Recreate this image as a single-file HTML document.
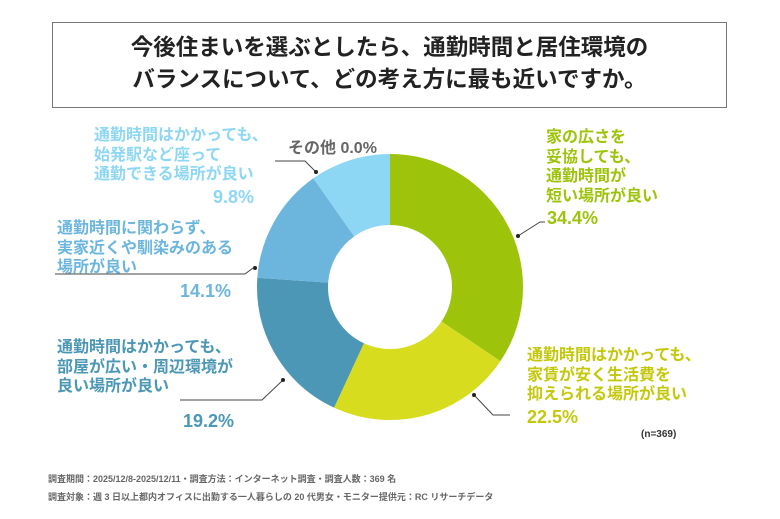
<!DOCTYPE html>
<html><head><meta charset="utf-8"><style>
body{margin:0;background:#fff;width:780px;height:519px;overflow:hidden;position:relative;font-family:"Liberation Sans","Noto Sans CJK JP",sans-serif;font-weight:bold}
.t{position:absolute;white-space:nowrap}
</style></head><body>
<div style="position:absolute;left:52px;top:22px;width:675px;height:86px;border:1px solid #777;box-sizing:border-box"></div>
<div class="t" style="left:52px;width:675px;top:32px;text-align:center;font-size:22.5px;line-height:32px;color:#222">今後住まいを選ぶとしたら、通勤時間と居住環境の<br>バランスについて、どの考え方に最も近いですか。</div>
<svg width="780" height="519" style="position:absolute;left:0;top:0">
<g transform="rotate(-90 390 287)" fill="none" stroke-width="71">
<circle cx="390" cy="287" r="97.5" stroke="#9dc30a" stroke-dasharray="210.7 612.6" stroke-dashoffset="0"/>
<circle cx="390" cy="287" r="97.5" stroke="#d7dc1e" stroke-dasharray="137.8 612.6" stroke-dashoffset="-210.7"/>
<circle cx="390" cy="287" r="97.5" stroke="#4b97b5" stroke-dasharray="117.6 612.6" stroke-dashoffset="-348.5"/>
<circle cx="390" cy="287" r="97.5" stroke="#6cb6de" stroke-dasharray="86.4 612.6" stroke-dashoffset="-466.1"/>
<circle cx="390" cy="287" r="97.5" stroke="#8ed7f4" stroke-dasharray="60 612.6" stroke-dashoffset="-552.5"/>
</g>
<g stroke="#444" fill="none" stroke-width="1">
<polyline points="518,236 540,222 545,222"/>
<polyline points="474,395 493,415 510,415"/>
<polyline points="283,380 262,400 180,400"/>
<polyline points="253,268 245,274 55,274"/>
<polyline points="316,172 305,161 275,161"/>
</g>
<g fill="#222"><circle cx="518" cy="236" r="2"/><circle cx="474" cy="395" r="2"/><circle cx="283" cy="380" r="2"/><circle cx="255" cy="268" r="2"/><circle cx="316" cy="172" r="2"/></g>
</svg>
<div class="t" style="left:546px;top:128px;font-size:16px;line-height:19.5px;color:#9dc30a">家の広さを<br>妥協しても、<br>通勤時間が<br>短い場所が良い</div>
<div class="t" style="left:547px;top:208px;font-size:18px;color:#9dc30a">34.4%</div>
<div class="t" style="left:527px;top:346px;font-size:16px;line-height:19.5px;color:#c4c80c">通勤時間はかかっても、<br>家賃が安く生活費を<br>抑えられる場所が良い</div>
<div class="t" style="left:527px;top:407px;font-size:18px;color:#c4c80c">22.5%</div>
<div class="t" style="left:641px;top:429px;font-size:10px;color:#333">(n=369)</div>
<div class="t" style="left:57px;top:338px;font-size:16px;line-height:19.5px;color:#4b97b5">通勤時間はかかっても、<br>部屋が広い・周辺環境が<br>良い場所が良い</div>
<div class="t" style="left:183px;top:411px;font-size:18px;color:#4b97b5">19.2%</div>
<div class="t" style="left:57px;top:219px;font-size:16px;line-height:19.5px;color:#6cb6de">通勤時間に関わらず、<br>実家近くや馴染みのある<br>場所が良い</div>
<div class="t" style="left:180px;top:281px;font-size:18px;color:#6cb6de">14.1%</div>
<div class="t" style="left:94px;top:126px;font-size:16px;line-height:19.5px;color:#8ed7f4">通勤時間はかかっても、<br>始発駅など座って<br>通勤できる場所が良い</div>
<div class="t" style="left:213px;top:187px;font-size:18px;color:#8ed7f4">9.8%</div>
<div class="t" style="left:288px;top:134px;font-size:16px;color:#666">その他 0.0%</div>
<div class="t" style="left:48px;top:470px;font-size:9px;line-height:18px;color:#666">調査期間：2025/12/8-2025/12/11・調査方法：インターネット調査・調査人数：369 名<br>調査対象：週 3 日以上都内オフィスに出勤する一人暮らしの 20 代男女・モニター提供元：RC リサーチデータ</div>
</body></html>
